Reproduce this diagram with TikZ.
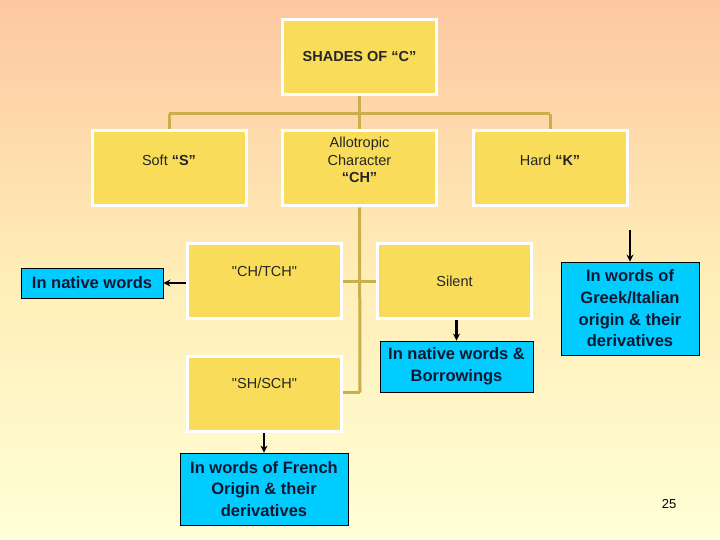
\documentclass[tikz,border=0pt]{standalone}
\usepackage{fontspec}
\setmainfont{Liberation Sans}
\usetikzlibrary{arrows.meta}
\definecolor{bgtop}{HTML}{FDC7A2}
\definecolor{bgmid}{HTML}{FFEDB6}
\definecolor{bgbot}{HTML}{FFFFD8}
\definecolor{ybox}{HTML}{F8DC5A}
\definecolor{gold}{HTML}{C9B04C}
\definecolor{cyanbox}{HTML}{00CCFF}
\definecolor{navy}{HTML}{101830}
\tikzset{
  ybox/.style={draw=white, line width=3pt, fill=ybox, minimum width=154pt, minimum height=75pt, inner sep=0pt},
  ytext/.style={font=\fontsize{14.5}{17.5}\selectfont, align=center, text=black!85},
  cbox/.style={draw=black, line width=0.8pt, fill=cyanbox, inner sep=0pt, align=center, text=navy, font=\bfseries\fontsize{16.5}{21.7}\selectfont},
  conn/.style={draw=gold, line width=3pt},
  arr/.style={draw=black, line width=2.3pt, -{Stealth[length=7pt,width=7pt]}}
}
\begin{document}
\begin{tikzpicture}[x=1pt,y=-1pt]
\useasboundingbox (0,0) rectangle (720,540);
\shade[top color=bgtop, bottom color=bgbot, middle color=bgmid] (0,0) rectangle (720,540);

% yellow boxes
\node[ybox] (root) at (359.5,57) {};
\node[ybox] (soft) at (169,168.5) {};
\node[ybox] (allo) at (359.5,168.5) {};
\node[ybox] (hard) at (550,168.5) {};
\node[ybox] (chtch) at (264.5,281) {};
\node[ybox] (shsch) at (264.5,394) {};
\node[ybox] (silent) at (454.5,281) {};

% texts
\node[ytext, font=\bfseries\fontsize{14.5}{17.5}\selectfont] (troot) at (359.5,57) {SHADES OF “C”};
\node[ytext] (tsoft) at (169,160) {Soft \textbf{“S”}};
\node[ytext] (tallo) at (359.5,160) {Allotropic\\Character\\\textbf{“CH”}};
\node[ytext] (thard) at (550,160) {Hard \textbf{“K”}};
\node[ytext] (tchtch) at (264.5,271) {\textquotedbl CH/TCH\textquotedbl};
\node[ytext] (tshsch) at (264.5,383) {\textquotedbl SH/SCH\textquotedbl};
\node[ytext] (tsilent) at (454.5,281) {Silent};

% connectors
\coordinate (hbar) at (0,114);
\draw[conn] (root.south) -- (root.south |- hbar);
\draw[conn] (soft.north |- hbar) -- (hard.north |- hbar);
\draw[conn] (soft.north |- hbar) -- (soft.north);
\draw[conn] (allo.north |- hbar) -- (allo.north);
\draw[conn] (hard.north |- hbar) -- (hard.north);
\coordinate (vbot) at (360,392.5);
\draw[conn] (allo.south) -- (vbot);
\draw[conn] (chtch.east) -- (silent.west);
\draw[conn] (shsch.east |- vbot) -- (vbot);

% cyan boxes
\node[cbox, minimum width=142pt, minimum height=30pt] (native) at (92,283) {In native words};
\node[cbox, minimum width=153pt, minimum height=51pt] (borrow) at (456.5,366.5) {In native words \&\\Borrowings};
\node[cbox, minimum width=138pt, minimum height=93pt] (greek) at (630,308.5) {In words of\\Greek/Italian\\origin \& their\\derivatives};
\node[cbox, minimum width=168pt, minimum height=72pt] (french) at (264,489) {In words of French\\Origin \& their\\derivatives};

% arrows
\draw[arr] (chtch.west |- native.east) -- (native.east);
\draw[arr] (silent.south -| borrow.north) -- (borrow.north);
\coordinate (gstart) at (630,230);
\draw[arr] (gstart) -- (greek.north);
\draw[arr] (shsch.south -| french.north) -- (french.north);

\node[font=\fontsize{13}{15}\selectfont] (page) at (669,504) {25};
\end{tikzpicture}
\end{document}
